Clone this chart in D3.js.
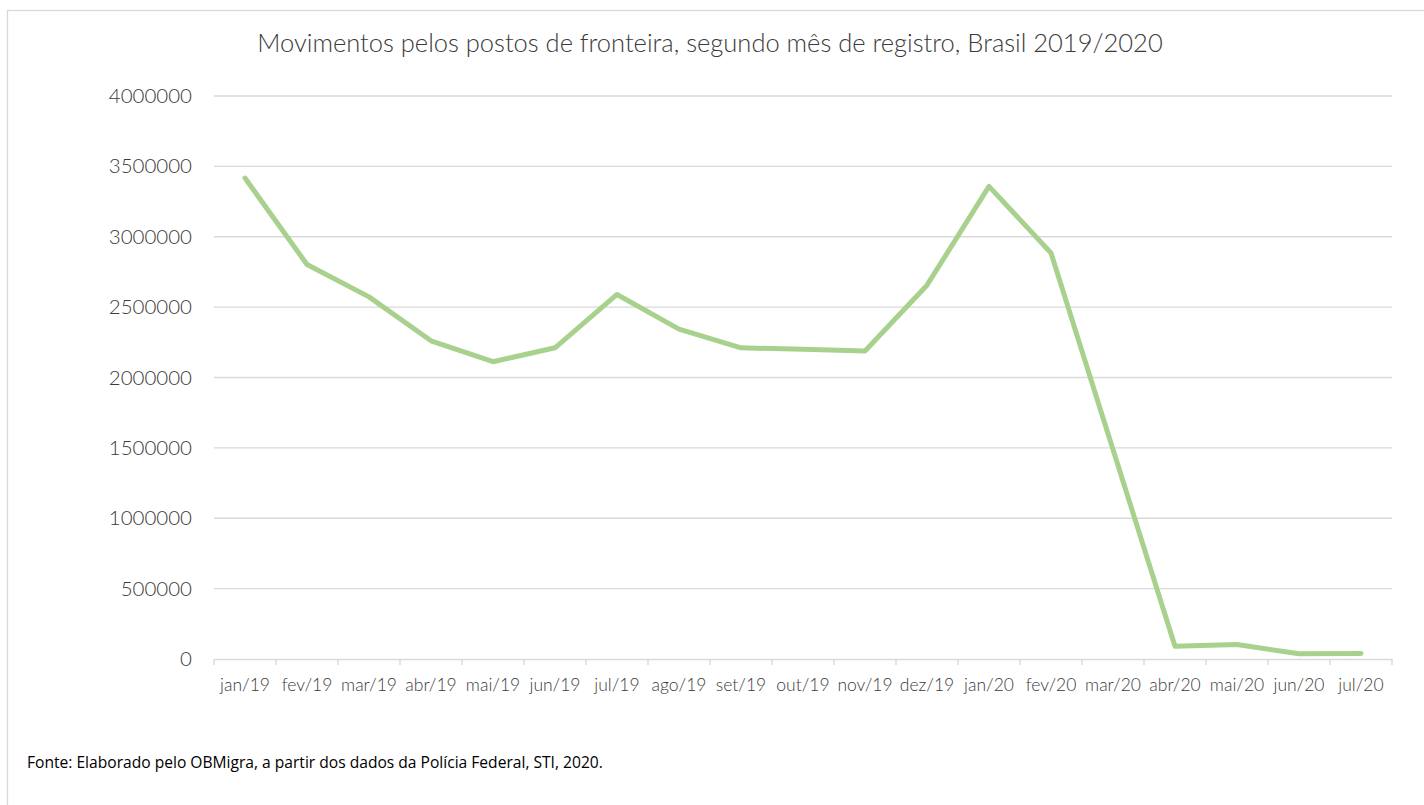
<!DOCTYPE html>
<html>
<head>
<meta charset="utf-8">
<script src="https://cdn.jsdelivr.net/npm/d3@7"></script>
<style>
  body { margin: 0; background: #fff; }
  svg text { font-family: "Lato", "Noto Sans", sans-serif; font-weight: 300; fill: #3a3a3a; }
</style>
</head>
<body>
<div id="chart"></div>
<script>
// >-----------------< Data >-------------------<
const months = ["jan/19", "fev/19", "mar/19", "abr/19", "mai/19", "jun/19", "jul/19", "ago/19", "set/19",
  "out/19", "nov/19", "dez/19", "jan/20", "fev/20", "mar/20", "abr/20", "mai/20", "jun/20", "jul/20"];
const movimentos = [3417000, 2803000, 2573000, 2261000, 2112000, 2211000, 2590000, 2344000, 2211000,
  2200000, 2188000, 2656000, 3358000, 2885000, 1488000, 91000, 103000, 37000, 39000];
const yTicks = [0, 500000, 1000000, 1500000, 2000000, 2500000, 3000000, 3500000, 4000000];

const titleText = "Movimentos pelos postos de fronteira, segundo mês de registro, Brasil 2019/2020";
const sourceText = "Fonte: Elaborado pelo OBMigra, a partir dos dados da Polícia Federal, STI, 2020.";

// >-----------------< Config >-------------------<
const width = 1424, height = 805;
const margin = {top: 96, right: 32, bottom: 146, left: 214};
const lineColor = "#a9d18e";
const gridColor = "#d9d9d9";

const svg = d3.select("#chart").append("svg")
  .attr("width", width)
  .attr("height", height);

// outer frame
svg.append("rect")
  .attr("x", 7.5).attr("y", 10.5)
  .attr("width", 1430).attr("height", 820)
  .attr("fill", "none")
  .attr("stroke", gridColor)
  .attr("stroke-width", 1.3);

const x = d3.scaleBand()
  .domain(months)
  .range([margin.left, width - margin.right]);

const y = d3.scaleLinear()
  .domain([0, 4000000])
  .range([height - margin.bottom, margin.top]);

// Grid
svg.append("g")
  .selectAll("line")
  .data(yTicks.slice(1))
  .enter().append("line")
  .attr("x1", margin.left)
  .attr("x2", width - margin.right)
  .attr("y1", d => y(d))
  .attr("y2", d => y(d))
  .attr("stroke", gridColor)
  .attr("stroke-width", 1.4);

// Y axis labels
const yAxis = svg.append("g")
  .attr("transform", `translate(${margin.left},0)`)
  .call(d3.axisLeft(y).tickValues(yTicks).tickFormat(d3.format("d")).tickSize(0).tickPadding(22));
yAxis.select(".domain").remove();
yAxis.selectAll("text")
  .style("font-size", "20.5px")
  .style("font-family", null);

// X axis
const xAxis = svg.append("g")
  .attr("transform", `translate(0,${y(0)})`)
  .call(d3.axisBottom(x).tickSize(0).tickPadding(20).tickSizeOuter(0));
xAxis.select(".domain").attr("stroke", gridColor).attr("stroke-width", 1.4);
xAxis.selectAll("text")
  .style("font-size", "17.5px")
  .style("font-family", null);

// category boundary ticks
svg.append("g")
  .selectAll("line")
  .data(months.concat(["end"]))
  .enter().append("line")
  .attr("x1", (d, i) => i < months.length ? x(d) : x.range()[1])
  .attr("x2", (d, i) => i < months.length ? x(d) : x.range()[1])
  .attr("y1", y(0))
  .attr("y2", y(0) + 6)
  .attr("stroke", gridColor)
  .attr("stroke-width", 1.4);

// Line
const line = d3.line()
  .x((d, i) => x(months[i]) + x.bandwidth() / 2)
  .y(d => y(d));

svg.append("path")
  .datum(movimentos)
  .attr("d", line)
  .attr("fill", "none")
  .attr("stroke", lineColor)
  .attr("stroke-width", 5)
  .attr("stroke-linejoin", "round")
  .attr("stroke-linecap", "round");

// Title
svg.append("text")
  .attr("x", 710)
  .attr("y", 52)
  .attr("text-anchor", "middle")
  .style("font-size", "25.5px")
  .text(titleText);

// Source
svg.append("text")
  .attr("x", 27)
  .attr("y", 768)
  .style("font-family", "'Open Sans', sans-serif")
  .style("font-weight", 400)
  .style("font-size", "15.6px")
  .style("fill", "#000")
  .text(sourceText);
</script>
</body>
</html>
